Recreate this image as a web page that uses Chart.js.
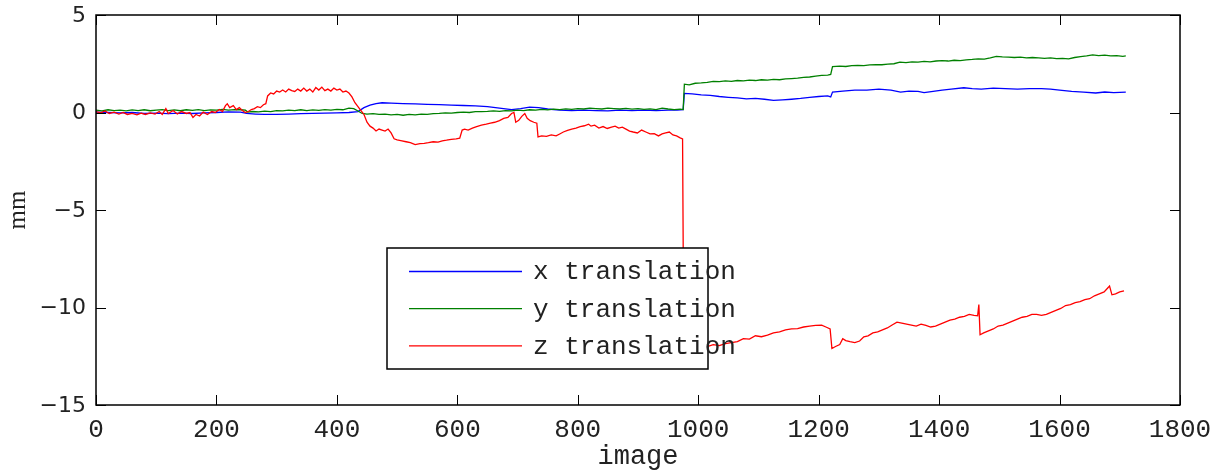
<!DOCTYPE html>
<html>
<head>
<meta charset="utf-8">
<script src="https://cdn.jsdelivr.net/npm/chart.js@4.4.1/dist/chart.umd.min.js"></script>
<style>
  html, body { margin: 0; padding: 0; background: #fff; }
  #wrap { width: 1218px; height: 472px; }
</style>
</head>
<body>
<div id="wrap"><canvas id="chart" width="1218" height="472"></canvas></div>
<script>
// axis ticks
const xTicks = [0, 200, 400, 600, 800, 1000, 1200, 1400, 1600, 1800];
const yTicks = [5, 0, -5, -10, -15];

// x translation (blue)
const xFrames = [0, 20, 40, 60, 80, 100, 120, 140, 160, 180, 200, 220, 240, 250, 265, 280, 300, 320, 340, 360, 380, 400, 420, 435, 445, 455, 465, 475, 490, 510, 530, 550, 570, 590, 610, 630, 650, 670, 690, 705, 720, 735, 750, 770, 790, 810, 830, 850, 870, 890, 910, 930, 950, 965, 975, 977, 990, 1005, 1020, 1035, 1050, 1065, 1080, 1095, 1110, 1125, 1140, 1155, 1170, 1185, 1200, 1215, 1220, 1223, 1240, 1260, 1280, 1300, 1320, 1336, 1350, 1365, 1375, 1390, 1405, 1420, 1441, 1455, 1470, 1490, 1510, 1530, 1550, 1570, 1585, 1600, 1620, 1640, 1660, 1675, 1690, 1710];
const xTrans = [0.02, 0.0, -0.02, 0.0, -0.05, -0.03, -0.06, -0.03, -0.05, -0.02, 0.0, 0.03, 0.02, -0.05, -0.08, -0.1, -0.1, -0.08, -0.06, -0.05, -0.03, -0.02, 0.0, 0.05, 0.25, 0.38, 0.45, 0.5, 0.48, 0.46, 0.44, 0.42, 0.4, 0.38, 0.36, 0.34, 0.3, 0.22, 0.15, 0.2, 0.28, 0.25, 0.18, 0.12, 0.1, 0.12, 0.1, 0.08, 0.12, 0.1, 0.12, 0.1, 0.12, 0.12, 0.15, 0.98, 0.95, 0.9, 0.88, 0.82, 0.78, 0.75, 0.7, 0.72, 0.68, 0.62, 0.65, 0.68, 0.72, 0.78, 0.82, 0.85, 0.8, 1.05, 1.1, 1.15, 1.15, 1.2, 1.15, 1.05, 1.1, 1.08, 1.02, 1.08, 1.15, 1.2, 1.27, 1.22, 1.2, 1.25, 1.22, 1.2, 1.22, 1.22, 1.2, 1.15, 1.08, 1.05, 1.0, 1.05, 1.02, 1.05];

// y translation (green)
const yFrames = [0, 10, 20, 30, 40, 50, 60, 70, 80, 90, 100, 110, 120, 130, 140, 150, 160, 170, 180, 190, 200, 210, 220, 230, 240, 248, 252, 260, 270, 280, 290, 300, 310, 320, 330, 340, 350, 360, 370, 380, 390, 400, 410, 420, 428, 435, 442, 450, 460, 470, 480, 490, 500, 510, 520, 530, 540, 550, 560, 570, 580, 590, 600, 610, 620, 630, 640, 650, 660, 670, 680, 690, 700, 710, 720, 730, 740, 750, 760, 770, 780, 790, 800, 810, 820, 830, 840, 850, 860, 870, 880, 890, 900, 910, 920, 930, 940, 950, 960, 970, 975, 977, 985, 995, 1005, 1015, 1025, 1035, 1045, 1055, 1065, 1075, 1085, 1095, 1105, 1115, 1125, 1135, 1145, 1155, 1165, 1175, 1185, 1195, 1205, 1215, 1220, 1223, 1235, 1245, 1255, 1265, 1275, 1285, 1295, 1305, 1315, 1325, 1335, 1345, 1355, 1365, 1375, 1385, 1395, 1405, 1415, 1425, 1435, 1445, 1455, 1465, 1475, 1485, 1495, 1505, 1515, 1525, 1535, 1545, 1555, 1565, 1575, 1585, 1595, 1605, 1615, 1625, 1635, 1645, 1655, 1665, 1675, 1685, 1695, 1705, 1710];
const yTrans = [0.12, 0.08, 0.14, 0.1, 0.12, 0.08, 0.13, 0.1, 0.14, 0.09, 0.12, 0.15, 0.1, 0.13, 0.09, 0.14, 0.11, 0.15, 0.1, 0.13, 0.12, 0.16, 0.12, 0.15, 0.14, 0.12, 0.02, 0.05, 0.03, 0.07, 0.05, 0.1, 0.08, 0.12, 0.1, 0.14, 0.1, 0.13, 0.11, 0.15, 0.12, 0.16, 0.14, 0.22, 0.2, 0.08, -0.05, -0.08, -0.06, -0.1, -0.08, -0.12, -0.1, -0.14, -0.1, -0.12, -0.08, -0.1, -0.06, -0.05, -0.02, -0.03, 0.0, 0.02, 0.0, 0.04, 0.05, 0.06, 0.08, 0.06, 0.1, 0.08, 0.12, 0.1, 0.14, 0.12, 0.16, 0.13, 0.17, 0.15, 0.19, 0.16, 0.2, 0.18, 0.22, 0.2, 0.18, 0.22, 0.2, 0.18, 0.21, 0.17, 0.2, 0.16, 0.19, 0.15, 0.22, 0.18, 0.15, 0.17, 0.15, 1.45, 1.42, 1.5, 1.52, 1.55, 1.6, 1.58, 1.62, 1.6, 1.64, 1.62, 1.66, 1.64, 1.68, 1.66, 1.7, 1.68, 1.72, 1.74, 1.76, 1.8, 1.82, 1.86, 1.9, 1.92, 1.95, 2.35, 2.38, 2.36, 2.4, 2.42, 2.4, 2.44, 2.46, 2.45, 2.48, 2.5, 2.58, 2.56, 2.6, 2.58, 2.62, 2.6, 2.64, 2.66, 2.64, 2.68, 2.66, 2.7, 2.72, 2.75, 2.74, 2.8, 2.88, 2.85, 2.84, 2.82, 2.84, 2.8, 2.82, 2.8, 2.78, 2.8, 2.76, 2.78, 2.75, 2.82, 2.86, 2.9, 2.95, 2.92, 2.94, 2.9, 2.92, 2.88, 2.9];

// z translation (red)
const zFrames = [0, 8, 15, 22, 30, 38, 45, 52, 60, 68, 75, 82, 90, 98, 105, 110, 116, 120, 128, 135, 142, 150, 156, 161, 166, 172, 178, 185, 192, 198, 205, 210, 215, 218, 222, 228, 233, 238, 243, 248, 253, 258, 263, 268, 273, 278, 282, 285, 290, 295, 300, 305, 310, 315, 320, 325, 330, 335, 340, 345, 350, 355, 360, 365, 370, 375, 380, 385, 390, 395, 400, 405, 410, 415, 420, 425, 430, 435, 440, 445, 450, 455, 460, 465, 470, 475, 480, 485, 490, 495, 500, 508, 515, 522, 530, 538, 545, 552, 560, 568, 575, 582, 590, 598, 604, 608, 612, 618, 625, 632, 640, 648, 655, 662, 670, 677, 684, 690, 694, 697, 702, 707, 712, 716, 721, 727, 732, 734, 740, 748, 756, 764, 770, 776, 783, 790, 797, 804, 811, 818, 822, 828, 835, 842, 849, 856, 862, 868, 874, 880, 886, 892, 899, 906, 913, 920, 927, 934, 940, 946, 952, 958, 964, 970, 974, 976, 985, 995, 1005, 1015, 1025, 1035, 1045, 1055, 1065, 1075, 1085, 1095, 1105, 1115, 1125, 1135, 1145, 1155, 1165, 1175, 1185, 1195, 1205, 1212, 1219, 1222, 1228, 1235, 1240, 1245, 1252, 1260, 1268, 1275, 1282, 1290, 1298, 1306, 1314, 1322, 1330, 1338, 1346, 1354, 1362, 1370, 1378, 1386, 1394, 1402, 1410, 1418, 1426, 1434, 1442, 1450, 1458, 1464, 1466, 1468, 1474, 1482, 1490, 1498, 1506, 1514, 1522, 1530, 1538, 1546, 1554, 1562, 1570, 1578, 1586, 1594, 1602, 1610, 1618, 1626, 1634, 1642, 1650, 1658, 1666, 1674, 1680, 1683, 1687, 1693, 1700, 1707];
const zTrans = [0.05, -0.02, 0.08, -0.05, 0.02, -0.08, 0.0, -0.1, -0.05, -0.12, -0.03, -0.1, -0.02, -0.08, 0.05, -0.1, 0.2, -0.05, 0.1, -0.08, 0.05, -0.05, 0.0, -0.25, -0.1, -0.18, 0.02, -0.1, 0.05, 0.0, 0.15, 0.05, 0.35, 0.45, 0.25, 0.35, 0.15, 0.25, 0.1, 0.0, 0.05, 0.15, 0.2, 0.3, 0.25, 0.4, 0.45, 0.85, 1.0, 0.95, 1.1, 1.05, 1.15, 1.05, 1.2, 1.12, 1.08, 1.2, 1.1, 1.25, 1.1, 1.2, 1.05, 1.28, 1.15, 1.3, 1.12, 1.2, 1.1, 1.25, 1.15, 1.2, 1.05, 1.1, 1.0, 0.8, 0.5, 0.3, 0.1, -0.1, -0.5, -0.7, -0.8, -0.95, -0.85, -0.9, -0.95, -0.85, -1.05, -1.35, -1.4, -1.45, -1.5, -1.55, -1.65, -1.6, -1.58, -1.55, -1.5, -1.52, -1.45, -1.42, -1.38, -1.35, -1.32, -0.9, -0.85, -0.9, -0.8, -0.72, -0.65, -0.6, -0.55, -0.5, -0.42, -0.3, -0.25, -0.05, 0.0, -0.5, -0.4, -0.2, -0.05, -0.3, -0.42, -0.5, -0.55, -1.25, -1.2, -1.22, -1.15, -1.2, -1.1, -1.0, -0.92, -0.85, -0.8, -0.72, -0.68, -0.6, -0.7, -0.65, -0.8, -0.72, -0.82, -0.75, -0.7, -0.8, -0.75, -0.85, -0.95, -1.0, -1.05, -0.9, -1.0, -1.1, -1.08, -1.2, -1.1, -1.05, -1.0, -1.15, -1.2, -1.3, -1.35, -12.0, -11.95, -12.0, -11.9, -12.0, -11.9, -11.95, -11.85, -11.8, -11.75, -11.6, -11.62, -11.45, -11.5, -11.42, -11.3, -11.25, -11.15, -11.1, -11.08, -11.0, -10.95, -10.92, -10.9, -11.0, -11.1, -12.1, -12.0, -11.9, -11.6, -11.7, -11.75, -11.8, -11.72, -11.5, -11.45, -11.3, -11.25, -11.15, -11.05, -10.9, -10.75, -10.8, -10.85, -10.9, -10.95, -10.85, -10.92, -11.0, -10.95, -10.85, -10.75, -10.65, -10.6, -10.5, -10.45, -10.35, -10.4, -10.42, -9.85, -11.4, -11.3, -11.2, -11.1, -10.95, -10.9, -10.8, -10.7, -10.6, -10.5, -10.45, -10.35, -10.35, -10.4, -10.35, -10.25, -10.15, -10.05, -9.9, -9.85, -9.75, -9.7, -9.6, -9.55, -9.4, -9.3, -9.2, -9.0, -8.9, -9.35, -9.3, -9.2, -9.15];

const seriesLabels = ['x translation', 'y translation', 'z translation'];
const seriesColors = ['#0000ff', '#008000', '#ff0000'];

function toPoints(frames, values) {
    return frames.map((f, i) => ({ x: f, y: values[i] }));
}

function minusSign(v) {
    return v < 0 ? '\u2212' + Math.abs(v) : String(v);
}

/**
 * Matlab-like frame: box, inward ticks, tick labels, axis titles, legend box
 */
const matlabAxes = {
    id: 'matlabAxes',
    afterDatasetsDraw(chart) {
        const ctx = chart.ctx;
        const a = chart.chartArea;
        const xs = chart.scales.x;
        const ys = chart.scales.y;
        ctx.save();

        // box
        ctx.strokeStyle = '#000';
        ctx.lineWidth = 1.5;
        ctx.strokeRect(a.left, a.top, a.right - a.left, a.bottom - a.top);

        // inward ticks
        ctx.lineWidth = 1;
        ctx.beginPath();
        xTicks.forEach(t => {
            const px = Math.round(xs.getPixelForValue(t)) + 0.5;
            ctx.moveTo(px, a.bottom); ctx.lineTo(px, a.bottom - 10);
            ctx.moveTo(px, a.top); ctx.lineTo(px, a.top + 10);
        });
        yTicks.forEach(t => {
            const py = Math.round(ys.getPixelForValue(t)) + 0.5;
            ctx.moveTo(a.left, py); ctx.lineTo(a.left + 10, py);
            ctx.moveTo(a.right, py); ctx.lineTo(a.right - 10, py);
        });
        ctx.stroke();

        // tick labels
        ctx.fillStyle = '#222';
        ctx.font = '26px "Liberation Mono", monospace';
        ctx.textAlign = 'center';
        ctx.textBaseline = 'top';
        xTicks.forEach(t => ctx.fillText(String(t), xs.getPixelForValue(t), a.bottom + 12));

        ctx.font = '22px "DejaVu Sans", sans-serif';
        ctx.textAlign = 'right';
        ctx.textBaseline = 'middle';
        yTicks.forEach(t => ctx.fillText(minusSign(t), a.left - 10, ys.getPixelForValue(t) + 1));

        // axis titles
        ctx.font = '27px "Liberation Mono", monospace';
        ctx.textAlign = 'center';
        ctx.textBaseline = 'top';
        ctx.fillText('image', (a.left + a.right) / 2, a.bottom + 38);

        ctx.save();
        ctx.translate(18, (a.top + a.bottom) / 2);
        ctx.rotate(-Math.PI / 2);
        ctx.font = '25px "Liberation Serif", serif';
        ctx.textAlign = 'center';
        ctx.textBaseline = 'middle';
        ctx.fillText('mm', 0, 0);
        ctx.restore();

        // legend
        const box = { left: 387, top: 248, right: 708, bottom: 369 };
        ctx.fillStyle = '#fff';
        ctx.fillRect(box.left, box.top, box.right - box.left, box.bottom - box.top);
        ctx.strokeStyle = '#000';
        ctx.lineWidth = 1.5;
        ctx.strokeRect(box.left, box.top, box.right - box.left, box.bottom - box.top);
        ctx.font = '26px "Liberation Mono", monospace';
        ctx.textAlign = 'left';
        ctx.textBaseline = 'middle';
        seriesLabels.forEach((label, i) => {
            const y = box.top + 23.5 + i * 37.2;
            ctx.strokeStyle = seriesColors[i];
            ctx.lineWidth = 1.3;
            ctx.beginPath();
            ctx.moveTo(409, y); ctx.lineTo(522, y);
            ctx.stroke();
            ctx.fillStyle = '#222';
            ctx.fillText(label, 533, y + 1);
        });

        ctx.restore();
    }
};

const datasets = [
    toPoints(xFrames, xTrans),
    toPoints(yFrames, yTrans),
    toPoints(zFrames, zTrans)
].map((pts, i) => ({
    label: seriesLabels[i],
    data: pts,
    borderColor: seriesColors[i],
    borderWidth: 1.3,
    pointRadius: 0,
    tension: 0,
    fill: false,
    order: 3 - i
}));

new Chart(document.getElementById('chart').getContext('2d'), {
    type: 'line',
    data: { datasets },
    options: {
        responsive: false,
        animation: false,
        parsing: true,
        layout: { padding: { left: 96, right: 38, top: 15, bottom: 67 } },
        scales: {
            x: {
                type: 'linear', min: 0, max: 1800,
                ticks: { display: false, stepSize: 200 },
                grid: { display: false, drawTicks: false },
                border: { display: false }
            },
            y: {
                type: 'linear', min: -15, max: 5,
                ticks: { display: false, stepSize: 5 },
                grid: { display: false, drawTicks: false },
                border: { display: false }
            }
        },
        plugins: {
            legend: { display: false },
            tooltip: { enabled: false }
        }
    },
    plugins: [matlabAxes]
});
</script>
</body>
</html>
